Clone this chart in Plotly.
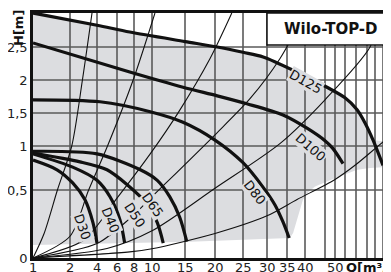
import numpy as np
import plotly.graph_objects as go

# ---- printed (non-uniform) axis scales: value -> axis unit ----
SCALE_Q = [1, 2, 4, 6, 8, 10, 15, 20, 25, 30, 35, 40, 47, 50, 55, 60, 65, 70, 75, 80, 85]
SCALE_QU = [0, 37, 64, 84, 101, 119, 152, 182, 210, 234, 254, 272, 292, 302, 312, 323, 334, 342, 350, 357, 364]
SCALE_H = [0, 0.5, 1, 1.5, 2, 2.5, 3]
SCALE_HU = [0, 68, 112, 145, 178, 211, 245]

Q_TICKS = [1, 2, 4, 6, 8, 10, 15, 20, 25, 30, 35, 40, 50]
Q_GRID = [2, 4, 6, 8, 10, 15, 20, 25, 30, 35, 40, 47, 50, 55, 60, 65, 70, 75, 80]
H_TICKS = [0, 0.5, 1, 1.5, 2, 2.5]
H_TICK_TEXT = ["0", "0,5", "1", "1,5", "2", "2,5"]
H_GRID = [0.5, 1, 1.5, 2, 2.5]

# ---- pump curves (Q in m3/h, H in m) ----
D125_Q = [1, 4, 7.5, 15, 20.4, 25, 29.2, 37.8, 47.6, 55, 60.5, 64.1, 68.8, 75]
D125_H = [3.0, 2.82, 2.72, 2.58, 2.50, 2.42, 2.35, 2.12, 1.89, 1.73, 1.55, 1.35, 1.09, 0.78]
D100_Q = [1, 7.5, 14.7, 20.4, 25.8, 34, 40.7, 47, 49.4, 54]
D100_H = [2.56, 2.12, 1.89, 1.76, 1.64, 1.47, 1.27, 1.08, 0.97, 0.8]
D80_Q = [1, 4.3, 9.8, 14.7, 20, 25, 29.2, 32, 34, 35.6]
D80_H = [1.70, 1.67, 1.52, 1.36, 1.09, 0.81, 0.53, 0.39, 0.265, 0.147]
D65_Q = [1, 4, 8.7, 10.8, 12.7, 14.2, 15.3]
D65_H = [0.94, 0.91, 0.73, 0.61, 0.45, 0.30, 0.12]
D50_Q = [1, 2.74, 5, 7.2, 9.4, 10.8, 11.7]
D50_H = [0.92, 0.82, 0.73, 0.56, 0.40, 0.26, 0.11]
D40_Q = [1, 2.2, 4, 5.3, 6.35, 6.9]
D40_H = [0.91, 0.76, 0.61, 0.45, 0.28, 0.11]
D30_Q = [1, 1.65, 2.2, 3.1, 3.7, 4.0]
D30_H = [0.84, 0.73, 0.58, 0.43, 0.26, 0.11]

PUMPS = [("D125", D125_Q, D125_H), ("D100", D100_Q, D100_H), ("D80", D80_Q, D80_H),
         ("D65", D65_Q, D65_H), ("D50", D50_Q, D50_H), ("D40", D40_Q, D40_H),
         ("D30", D30_Q, D30_H)]

# label anchor (Q, H) and text angle
LABEL_NAME = ["D125", "D100", "D80", "D65", "D50", "D40", "D30"]
LABEL_Q = [40, 42, 27.5, 10, 8.1, 5.3, 2.9]
LABEL_H = [1.97, 0.98, 0.485, 0.39, 0.31, 0.28, 0.23]
LABEL_ANGLE = [29, 41, 52, 55, 57, 68, 71]

# ---- system curves ----
T1_Q = [1, 1.3, 1.66, 2.13, 2.92, 3.63]
T1_H = [0, 0.18, 0.5, 1.0, 2.0, 3.0]
T2_Q = [1, 2, 3.38, 5.05, 7.9, 10.45]
T2_H = [0, 0.16, 0.5, 1.0, 2.0, 3.0]
T3_Q = [1, 3, 6, 9.8, 14, 19.2, 23.0]
T3_H = [0, 0.13, 0.44, 0.91, 1.51, 2.33, 3.0]
T4_Q = [1, 4, 7.5, 10.2, 20, 26.5, 33.3, 40]
T4_H = [0, 0.106, 0.29, 0.46, 1.17, 1.72, 2.33, 3.0]
T5_Q = [1, 5, 10, 20, 33.3, 47, 66.9, 73.6]
T5_H = [0, 0.07, 0.20, 0.52, 1.04, 1.7, 2.5, 3.0]
T6_Q = [1, 7.5, 10, 20, 30, 37.8, 50, 60, 71.3, 80.5]
T6_H = [0, 0.045, 0.068, 0.18, 0.31, 0.43, 0.62, 0.79, 0.99, 1.16]
SYSTEM = [(T1_Q, T1_H), (T2_Q, T2_H), (T3_Q, T3_H), (T4_Q, T4_H), (T5_Q, T5_H), (T6_Q, T6_H)]

# ---- operating range outline (upper edge, then right and lower side) ----
RANGE_TOP_Q = [1, 4, 7.5, 15, 20.4, 25, 29.2, 37.8, 47.6, 55, 60.5, 64.1, 68.8]
RANGE_TOP_H = [3.0, 2.82, 2.72, 2.58, 2.50, 2.42, 2.35, 2.12, 1.89, 1.73, 1.55, 1.35, 1.09]
RANGE_Q = [76.4, 76.4, 66.9, 60.5, 48.5, 43.5, 41.25, 39.4, 36.7, 35.8, 15.8, 1]
RANGE_H = [1.07, 0.76, 0.75, 0.73, 0.61, 0.54, 0.485, 0.426, 0.184, 0.147, 0.12, 0.096]

GRAY = "#dcdde0"
GRID = "#5a5a5a"
FONT = "DejaVu Sans, sans-serif"


def sx(q):
    return np.interp(np.asarray(q, dtype=float), SCALE_Q, SCALE_QU)


def sy(h):
    return np.interp(np.asarray(h, dtype=float), SCALE_H, SCALE_HU)


X_MAX = 358
Y_MAX = float(sy(3.0))

fig = go.Figure()

# operating range
fig.add_trace(go.Scatter(
    x=np.concatenate([sx(RANGE_TOP_Q), sx(RANGE_Q)]),
    y=np.concatenate([sy(RANGE_TOP_H), sy(RANGE_H)]),
    mode="lines", fill="toself", fillcolor=GRAY, line=dict(width=0, color=GRAY),
    hoverinfo="skip", showlegend=False))

# grid
gx, gy = [], []
for q in Q_GRID:
    gx += [float(sx(q)), float(sx(q)), None]
    gy += [0, Y_MAX, None]
for h in H_GRID:
    gx += [0, X_MAX, None]
    gy += [float(sy(h)), float(sy(h)), None]
fig.add_trace(go.Scatter(x=gx, y=gy, mode="lines", line=dict(color=GRID, width=1.6),
                         hoverinfo="skip", showlegend=False))

# system curves
for q, h in SYSTEM:
    fig.add_trace(go.Scatter(x=sx(q), y=sy(h), mode="lines",
                             line=dict(color="#111", width=1.1, shape="spline", smoothing=0.8),
                             hoverinfo="skip", showlegend=False))

# pump curves
for name, q, h in PUMPS:
    fig.add_trace(go.Scatter(x=sx(q), y=sy(h), mode="lines", name=name,
                             line=dict(color="#111", width=3.2, shape="spline", smoothing=0.8),
                             showlegend=False))

for name, q, h, a in zip(LABEL_NAME, LABEL_Q, LABEL_H, LABEL_ANGLE):
    fig.add_annotation(x=float(sx(q)), y=float(sy(h)), text=name, showarrow=False,
                       textangle=a, bgcolor=GRAY, borderpad=0,
                       xanchor="center", yanchor="middle",
                       font=dict(family=FONT, size=13, color="#111"))

# x tick labels
for q in Q_TICKS:
    fig.add_annotation(x=float(sx(q)), xref="x", yref="paper", y=-9 / 245,
                       xanchor="center", yanchor="middle",
                       text=str(q), showarrow=False,
                       font=dict(family=FONT, size=13, color="#222"))

# title box
fig.add_shape(type="rect", xref="paper", yref="paper", x0=0.6536, x1=1.02, y0=0.8694, y1=1.0,
              fillcolor="white", line=dict(color="#111", width=1.5), layer="above")
fig.add_annotation(xref="paper", yref="paper", x=0.832, y=0.935, xanchor="center", yanchor="middle",
                   text="<b>Wilo-TOP-D</b>", showarrow=False,
                   font=dict(family=FONT, size=15, color="#111"))

# axis titles
fig.add_annotation(xref="paper", yref="paper", x=0.872, y=-9 / 245, xanchor="left", yanchor="middle",
                   text="<b>Q[m³/h]</b>", showarrow=False, borderpad=0,
                   font=dict(family=FONT, size=13, color="#111"))
fig.add_annotation(xref="paper", yref="paper", x=-0.039, y=0.939, xanchor="center", yanchor="middle",
                   textangle=-90, text="<b>H[m]</b>", showarrow=False,
                   font=dict(family=FONT, size=13, color="#111"))

# page body has an 8px margin: figure is sized/offset so the plot lands on the reference grid
fig.update_layout(
    template="none",
    width=383, height=264, margin=dict(l=25, r=0, t=5, b=14, autoexpand=False),
    paper_bgcolor="white", plot_bgcolor="white",
    font=dict(family=FONT, size=13, color="#222"),
    xaxis=dict(range=[0, X_MAX], showticklabels=False, automargin=False,
               showgrid=False, zeroline=False, showline=True, linecolor="#111", linewidth=2.5,
               mirror=True, ticks=""),
    yaxis=dict(range=[0, Y_MAX], tickvals=sy(H_TICKS).tolist(), ticktext=H_TICK_TEXT,
               automargin=False,
               showgrid=False, zeroline=False, showline=True, linecolor="#111", linewidth=2.5,
               ticks="", tickfont=dict(size=13, color="#222")),
)

fig.write_html("out.html")
